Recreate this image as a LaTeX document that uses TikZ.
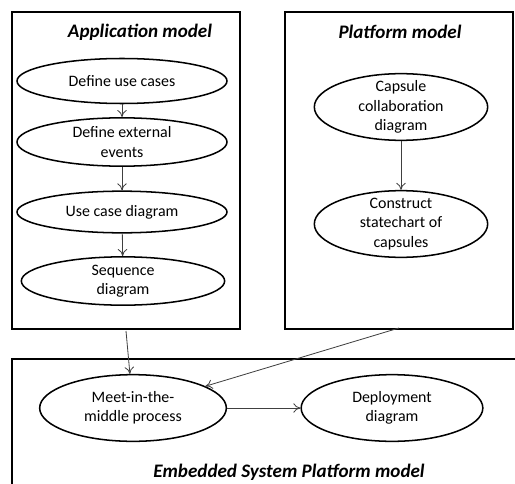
\documentclass[tikz,border=0pt]{standalone}
\usepackage{fontspec}
\setmainfont{Carlito}
\usetikzlibrary{shapes.geometric,arrows.meta}

\begin{document}
\begin{tikzpicture}
            [x=0.03cm, y=-0.03cm,
            caso/.style = {ellipse, draw, line width=1.3pt,
                        align=center, inner xsep=0pt, inner ysep=-6pt,
                        font=\fontsize{13.6}{16.6}\selectfont,
                        minimum width=6.3cm, minimum height=1.35cm},
            marco/.style = {draw, line width=1.4pt},
            titulo/.style = {font=\fontsize{16.3}{19}\selectfont\bfseries\itshape},
            flecha/.style = {draw=black!75, line width=0.7pt, -{To[length=6pt,width=8pt]}}]
            \useasboundingbox (0,0) rectangle (515,483);
            % Marcos de los modelos
            \draw[marco] (12,12) rectangle (240,329);
            \draw[marco] (285,12) rectangle (513,329);
            \draw[marco] (516,359) -- (12,359) -- (12,484);
            \node[titulo] (tapp) at (140,32) {Application model};
            \node[titulo] (tplat) at (400,32) {Platform model};
            \node[titulo] (temb) at (289,472) {Embedded System Platform model};
            % Modelo de aplicacion
            \node[caso] (uc) at (122,81) {Define use cases};
            \node[caso, minimum height=1.45cm] (ev) at (122,142) {Define external\\events};
            \node[caso, minimum height=1.25cm] (ucd) at (122,212) {Use case diagram};
            \node[caso, minimum width=6.1cm, minimum height=1.45cm] (seq) at (123,281) {Sequence\\diagram};
            \draw[flecha] (uc) -- (ev);
            \draw[flecha] (ev) -- (ucd);
            \draw[flecha] (ucd) -- (seq);
            % Modelo de plataforma
            \node[caso, minimum width=5.2cm, minimum height=2cm] (cap) at (401,107) {Capsule\\collaboration\\diagram};
            \node[caso, minimum width=5.2cm, minimum height=2cm] (sta) at (401,224) {Construct\\statechart of\\capsules};
            \draw[flecha] (cap) -- (sta);
            % Modelo de la plataforma embebida
            \node[caso, minimum width=5.6cm, minimum height=2cm] (mid) at (133,408) {Meet-in-the-\\middle process};
            \node[caso, minimum width=5.45cm, minimum height=2cm] (dep) at (392,408) {Deployment\\diagram};
            \coordinate (sapp) at (126,331);
            \coordinate (splat) at (399,328);
            \draw[flecha] (sapp) -- (mid);
            \draw[flecha] (splat) -- (mid);
            \draw[flecha] (mid) -- (dep);
        \end{tikzpicture}
\end{document}
